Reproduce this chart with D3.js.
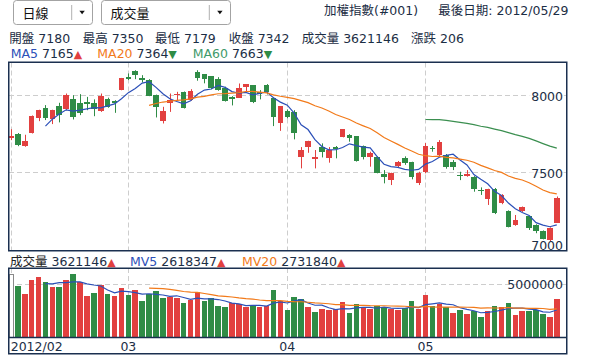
<!DOCTYPE html>
<html><head><meta charset="utf-8">
<script src="https://cdn.jsdelivr.net/npm/d3@7"></script>
<style>
body{margin:0;background:#fff;}
svg{display:block;font-family:"DejaVu Sans","Noto Sans CJK TC",sans-serif;}
</style></head><body>
<svg id="c" width="598" height="360"></svg>
<script>
const dates = ["2012/02/04","2012/02/06","2012/02/07","2012/02/08","2012/02/09","2012/02/10","2012/02/13","2012/02/14","2012/02/15","2012/02/16","2012/02/17","2012/02/20","2012/02/21","2012/02/22","2012/02/23","2012/02/24","2012/02/29",
"2012/03/01","2012/03/02","2012/03/03","2012/03/05","2012/03/06","2012/03/07","2012/03/08","2012/03/09","2012/03/12","2012/03/13","2012/03/14","2012/03/15","2012/03/16","2012/03/19","2012/03/20","2012/03/21","2012/03/22","2012/03/23","2012/03/26","2012/03/27","2012/03/28","2012/03/29","2012/03/30",
"2012/04/02","2012/04/03","2012/04/05","2012/04/06","2012/04/09","2012/04/10","2012/04/11","2012/04/12","2012/04/13","2012/04/16","2012/04/17","2012/04/18","2012/04/19","2012/04/20","2012/04/23","2012/04/24","2012/04/25","2012/04/26","2012/04/27","2012/04/30",
"2012/05/02","2012/05/03","2012/05/04","2012/05/07","2012/05/08","2012/05/09","2012/05/10","2012/05/11","2012/05/14","2012/05/15","2012/05/16","2012/05/17","2012/05/18","2012/05/21","2012/05/22","2012/05/23","2012/05/24","2012/05/25","2012/05/28","2012/05/29"];

const open = [7731,7754,7676,7762,7860,7920,7849,7935,7914,7981, 7957,7961,7955,7905,7981,7968,8041,8123,8162,8117, 8104,8006,7838,7953,8011,8026,7974,8157,8142,8129, 8110,8050,7996,7989,8060,8071,8028,8071,7991,7827, 7905,7899,7603,7668,7590,7668,7597,7670,7733,7748, 7741,7677,7603,7603,7495,7456,7547,7600,7575,7435, 7510,7665,7618,7618,7571,7492,7482,7478,7392,7331, 7398,7306,7256,7165,7256,7225,7165,7126,7068,7180];
const high = [7786,7761,7750,7875,7912,7942,7912,7957,8017,8006, 8013,7995,7979,8017,7990,7974,8118,8147,8168,8136, 8110,8010,7931,8017,8028,8030,8045,8168,8142,8129, 8123,8061,8000,8082,8078,8071,8039,8078,7991,7935, 7914,7909,7670,7711,7651,7694,7670,7677,7785,7754, 7741,7680,7640,7610,7521,7504,7580,7610,7575,7510, 7696,7677,7715,7625,7586,7510,7521,7482,7409,7400, 7405,7365,7260,7230,7285,7225,7170,7130,7150,7350];
const low = [7715,7676,7672,7758,7838,7845,7819,7830,7909,7849, 7877,7909,7870,7898,7925,7892,8038,8104,8110,8089, 8000,7862,7823,7898,7968,7920,7970,8100,8083,8045, 8035,7965,7940,7989,8028,7955,7979,8011,7806,7775, 7856,7720,7532,7633,7532,7603,7569,7597,7733,7705, 7576,7590,7543,7500,7435,7424,7540,7555,7461,7424, 7500,7640,7610,7530,7521,7456,7478,7381,7360,7295, 7236,7300,7150,7160,7250,7133,7112,7072,7060,7179];
const close = [7741,7683,7709,7871,7909,7856,7909,7877,8006,7866, 7892,7948,7914,8000,7931,7955,8115,8112,8136,8104, 8002,7931,7903,7974,8017,7924,8032,8115,8110,8050, 8039,7970,7979,8056,8078,7961,8017,8028,7866,7935, 7862,7759,7651,7711,7607,7640,7650,7655,7785,7726, 7581,7603,7629,7504,7478,7504,7575,7565,7478,7504, 7677,7657,7704,7539,7543,7488,7495,7396,7385,7398, 7241,7359,7154,7198,7280,7144,7126,7076,7144,7342];
const volume = [6000000,4930000,4160000,5480000,5770000,5290000,4810000,4810000,5480000,6060000, 5290000,3940000,4230000,5000000,4160000,3940000,4710000,4040000,4520000,3460000, 4100000,4420000,3750000,3850000,3750000,3270000,3590000,4300000,3460000,3750000, 2980000,2880000,3270000,3170000,2880000,3080000,2880000,2980000,4520000,3460000, 2600000,3850000,3620000,2880000,2400000,2690000,2600000,2690000,3370000,2310000, 3170000,2790000,2690000,2980000,2880000,2690000,2600000,2790000,3460000,2690000, 4080000,3030000,3190000,2930000,2360000,2640000,2270000,2550000,1980000,2550000, 3030000,2930000,3320000,2170000,2550000,2550000,2650000,2280000,1990000,3621146];

const priceTicks = [7000, 7500, 8000];
const volumeTicks = [5000000];
const monthTickDates = ["2012/02/04","2012/03/01","2012/04/02","2012/05/02"];
const monthTickLabels = ["2012/02","03","04","05"];

const quoteLabels = ["開盤","最高","最低","收盤","成交量","漲跌"];
const quoteValues = ["7180","7350","7179","7342","3621146","206"];
const maPeriods = [5, 20, 60];
const maNames = ["MA5","MA20","MA60"];
const maValues = ["7165","7364","7663"];
const maDir = ["▲","▼","▼"];
const mvPeriods = [5, 20];
const mvNames = ["成交量","MV5","MV20"];
const mvValues = ["3621146","2618347","2731840"];
const mvDir = ["▲","▲","▲"];

const RED = "#e2403f", GREEN = "#2f8c46", BLUE = "#2c50b8", ORANGE = "#f27a1a", MA60C = "#3b8f50";
const TXT = "#1c2e45", FRAME = "#1b3050", GRID = "#cdcdcd";

const svg = d3.select("#c");
const defs = svg.append("defs");

const x = d3.scaleBand().domain(dates).range([8.1, 8.1 + 6.91 * (dates.length - 0.19)]).paddingInner(0.19).paddingOuter(0);
const bw = x.bandwidth();
const cx = d => x(d) + bw / 2;
const yP = d3.scaleLinear().domain([7000, 8218]).range([250.5, 62.5]);
const yV = d3.scaleLinear().domain([0, 6620000]).range([337.5, 268]);

const P = {l: 9, r: 567, t: 62.5, b: 250.5};
const V = {l: 9, r: 567, t: 268, b: 337.5};

defs.append("clipPath").attr("id", "cp").append("rect").attr("x", P.l).attr("y", P.t).attr("width", P.r - P.l).attr("height", P.b - P.t);
defs.append("clipPath").attr("id", "cv").append("rect").attr("x", V.l).attr("y", V.t).attr("width", V.r - V.l).attr("height", V.b - V.t);

function movingAvg(arr, n) {
  return arr.map((_, i) => i >= n ? d3.mean(arr.slice(i - n + 1, i + 1)) : null);
}

// ---------- header ----------
function dropdown(x0, w, sep, label) {
  const g = svg.append("g");
  g.append("rect").attr("x", x0).attr("y", 0.5).attr("width", w).attr("height", 24).attr("rx", 3)
    .attr("fill", "#fff").attr("stroke", "#a3a3a3");
  g.append("line").attr("x1", sep).attr("x2", sep).attr("y1", 5).attr("y2", 20).attr("stroke", "#b0b0b0");
  const ax = sep + (x0 + w - sep) / 2;
  g.append("path").attr("d", `M${ax - 2.7},10.7L${ax + 2.7},10.7L${ax},14.2Z`).attr("fill", "#111");
  g.append("text").attr("x", x0 + 9).attr("y", 18).attr("font-size", 13).attr("fill", "#111").text(label);
}
dropdown(13.5, 79, 71.7, "日線");
dropdown(101.5, 129, 209.3, "成交量");

svg.append("text").attr("x", 324).attr("y", 15).attr("font-size", 12.5).attr("fill", TXT).text("加權指數(#001)");
svg.append("text").attr("x", 438.3).attr("y", 15).attr("font-size", 12.5).attr("fill", TXT).text("最後日期: 2012/05/29");

const quoteX = [9.3, 82.7, 155, 228.7, 301.7, 411];
quoteLabels.forEach((l, i) => {
  svg.append("text").attr("x", quoteX[i]).attr("y", 42.5).attr("font-size", 12.5).attr("fill", TXT)
    .text(l + " " + quoteValues[i]);
});

const maColors = [BLUE, ORANGE, "#3f9a6a"];
const maX = [10.7, 97.3, 192.7];
maNames.forEach((n, i) => {
  const t = svg.append("text").attr("x", maX[i]).attr("y", 58).attr("font-size", 12.5);
  t.append("tspan").attr("fill", maColors[i]).text(n);
  t.append("tspan").attr("fill", TXT).text(" " + maValues[i]);
  t.append("tspan").attr("fill", maDir[i] === "▲" ? RED : GREEN).attr("font-size", 11).text(maDir[i]);
});

// ---------- price panel ----------
const gP = svg.append("g");
// gridlines
gP.selectAll(".hg").data(priceTicks).join("line")
  .attr("x1", P.l).attr("x2", P.r).attr("y1", d => Math.round(yP(d)) - 0.5).attr("y2", d => Math.round(yP(d)) - 0.5)
  .attr("stroke", GRID).attr("stroke-dasharray", "5,3");
gP.selectAll(".vg").data(monthTickDates).join("line")
  .attr("x1", d => Math.round(cx(d)) + 0.5).attr("x2", d => Math.round(cx(d)) + 0.5).attr("y1", P.t).attr("y2", P.b)
  .attr("stroke", GRID).attr("stroke-dasharray", "5,3");

const gC = gP.append("g").attr("clip-path", "url(#cp)");
const idx = d3.range(dates.length);
gC.selectAll(".wick").data(idx).join("line")
  .attr("x1", i => Math.round(cx(dates[i])) + 0.5).attr("x2", i => Math.round(cx(dates[i])) + 0.5)
  .attr("y1", i => yP(high[i])).attr("y2", i => yP(low[i]))
  .attr("stroke", i => close[i] >= open[i] ? RED : GREEN).attr("stroke-width", 1);
gC.selectAll(".body").data(idx).join("rect")
  .attr("x", i => x(dates[i])).attr("width", bw)
  .attr("y", i => yP(Math.max(open[i], close[i])))
  .attr("height", i => Math.max(1.2, Math.abs(yP(open[i]) - yP(close[i]))))
  .attr("fill", i => close[i] >= open[i] ? RED : GREEN)
  .attr("shape-rendering", "crispEdges");

const maLineColors = [BLUE, ORANGE, MA60C];
maPeriods.forEach((n, k) => {
  const ma = movingAvg(close, n);
  const line = d3.line().defined(d => d != null).x((d, i) => cx(dates[i])).y(d => yP(d));
  gC.append("path").datum(ma).attr("d", line).attr("fill", "none")
    .attr("stroke", maLineColors[k]).attr("stroke-width", 1.2);
});

// price labels
const gL = gP.append("g");
priceTicks.forEach(t => {
  const yb = Math.min(yP(t) + 4.6, 249.6);
  const tx = gL.append("text").attr("x", 563).attr("y", yb).attr("text-anchor", "end")
    .attr("font-size", 12.5).attr("fill", TXT).text(d3.format("d")(t));
  const bb = tx.node().getBBox();
  gL.insert("rect", "text").attr("x", bb.x - 2).attr("y", yP(t) - 1).attr("width", bb.width + 3).attr("height", 2).attr("fill", "#fff");
});

gP.append("rect").attr("x", 8.75).attr("y", 62.25).attr("width", 558).attr("height", 188.5)
  .attr("fill", "none").attr("stroke", FRAME).attr("stroke-width", 1.5);

// ---------- volume header ----------
const mvColors = ["#222", BLUE, ORANGE];
const mvX = [10, 130, 242];
mvNames.forEach((n, i) => {
  const t = svg.append("text").attr("x", mvX[i]).attr("y", 265.5).attr("font-size", 12.5);
  t.append("tspan").attr("fill", mvColors[i]).text(n);
  t.append("tspan").attr("fill", TXT).text(" " + mvValues[i]);
  t.append("tspan").attr("fill", RED).attr("font-size", 11).text(mvDir[i]);
});

// ---------- volume panel ----------
const gV = svg.append("g");
gV.selectAll(".hg").data(volumeTicks).join("line")
  .attr("x1", V.l).attr("x2", V.r).attr("y1", d => Math.round(yV(d)) - 0.5).attr("y2", d => Math.round(yV(d)) - 0.5)
  .attr("stroke", GRID).attr("stroke-dasharray", "5,3");
gV.selectAll(".vg").data(monthTickDates).join("line")
  .attr("x1", d => Math.round(cx(d)) + 0.5).attr("x2", d => Math.round(cx(d)) + 0.5).attr("y1", V.t).attr("y2", V.b)
  .attr("stroke", GRID).attr("stroke-dasharray", "5,3");

const gB = gV.append("g").attr("clip-path", "url(#cv)");
gB.selectAll(".vb").data(idx).join("rect")
  .attr("x", i => i === 0 ? x(dates[i]) + 1.2 : x(dates[i])).attr("width", i => i === 0 ? bw - 1.5 : bw)
  .attr("y", i => yV(volume[i])).attr("height", i => yV(0) - yV(volume[i]))
  .attr("fill", i => i === 0 ? "#fff" : (close[i] >= close[i - 1] ? RED : GREEN))
  .attr("stroke", i => i === 0 ? "#8a8a8a" : "none")
  .attr("shape-rendering", "crispEdges");

const mvLineColors = [BLUE, ORANGE];
mvPeriods.forEach((n, k) => {
  const mv = movingAvg(volume, n);
  const line = d3.line().defined(d => d != null).x((d, i) => cx(dates[i])).y(d => yV(d));
  gB.append("path").datum(mv).attr("d", line).attr("fill", "none")
    .attr("stroke", mvLineColors[k]).attr("stroke-width", 1.2);
});

volumeTicks.forEach(t => {
  gV.append("text").attr("x", 563).attr("y", yV(t) + 4.3).attr("text-anchor", "end")
    .attr("font-size", 12.5).attr("fill", TXT).text(d3.format("d")(t));
});

gV.append("rect").attr("x", 8.75).attr("y", 268.25).attr("width", 558).attr("height", 85.5)
  .attr("fill", "none").attr("stroke", FRAME).attr("stroke-width", 1.5);
gV.append("line").attr("x1", 8.75).attr("x2", 566.75).attr("y1", 337.5).attr("y2", 337.5)
  .attr("stroke", FRAME).attr("stroke-width", 1.5);

// date axis labels
monthTickDates.forEach((d, i) => {
  svg.append("text").attr("x", i === 0 ? 10.7 : cx(d)).attr("y", 350.5)
    .attr("text-anchor", i === 0 ? "start" : "middle")
    .attr("font-size", 12.5).attr("fill", TXT).text(monthTickLabels[i]);
});
</script>
</body></html>
